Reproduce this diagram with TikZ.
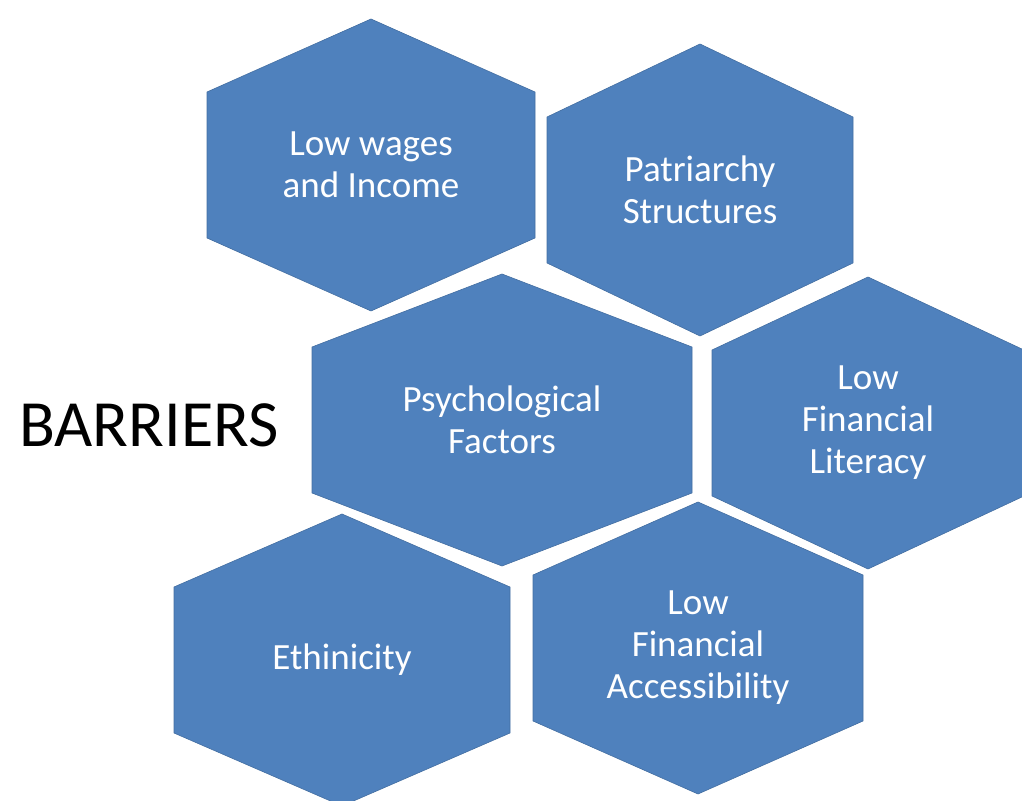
\documentclass[tikz,border=0pt]{standalone}
\usepackage{fontspec}
\setmainfont{Carlito}
\usetikzlibrary{positioning}
\definecolor{hexblue}{RGB}{79,129,189}
\tikzset{
  hexfill/.style={fill=hexblue, draw=hexblue!85!black, line width=0.6pt},
  hextext/.style={text=white, align=center, font=\fontsize{37}{42}\selectfont},
  bigtitle/.style={text=black, font=\fontsize{66}{72}\selectfont}
}
% name, x, y, half width, label
\newcommand{\hexcell}[5]{%
  \path[hexfill] (#2-#4,#3+73) -- (#2,#3+146) -- (#2+#4,#3+73)
    -- (#2+#4,#3-73) -- (#2,#3-146) -- (#2-#4,#3-73) -- cycle;
  \node[hextext] (#1) at (#2,#3) {#5};
}

\begin{document}
\begin{tikzpicture}[x=1pt, y=1pt]

\useasboundingbox (0,0) rectangle (1022,800);
\clip (0,0) rectangle (1022,800);

% Top row
\hexcell{wages}{371}{635}{164}{Low wages\\and Income}
\hexcell{patriarchy}{700}{610}{153}{Patriarchy\\Structures}

% Middle row
\hexcell{psych}{502}{380}{190}{Psychological\\Factors}
\hexcell{literacy}{868}{377}{156}{Low\\Financial\\Literacy}

% Bottom row
\hexcell{ethnic}{342}{140}{168}{Ethinicity}
\hexcell{access}{698}{152}{165}{Low\\Financial\\Accessibility}

% Title
\node[bigtitle] (barriers) at (149,375) {BARRIERS};

\end{tikzpicture}
\end{document}
